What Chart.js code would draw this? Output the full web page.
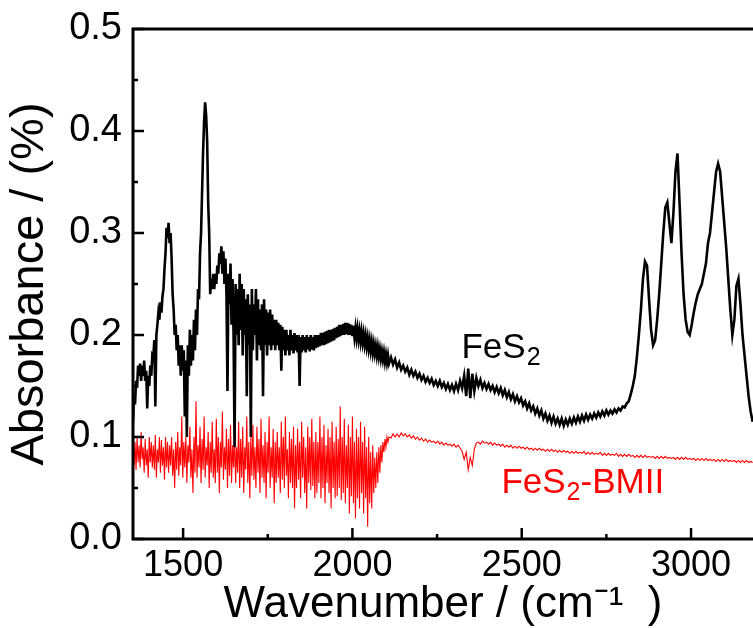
<!DOCTYPE html>
<html>
<head>
<meta charset="utf-8">
<script src="https://cdn.jsdelivr.net/npm/chart.js@4/dist/chart.umd.min.js"></script>
<style>
  html, body { margin: 0; padding: 0; background: #fff; }
  #wrap { width: 753px; height: 628px; position: relative; }
</style>
</head>
<body>
<div id="wrap"><canvas id="spectrum"></canvas></div>
<script>
// the noisy low-wavenumber part is read on a 3 cm-1 grid, the rest on 6 cm-1
const denseStart = 1352;
const denseStep = 3;
const tailStart = 2114;
const tailStep = 6;

// FeS2, 1352-2108 cm-1 (one row = 60 cm-1)
const fes2Dense = [
  0.115, 0.140, 0.132, 0.155, 0.148, 0.170, 0.160, 0.172, 0.155, 0.170, 0.160, 0.175, 0.155, 0.165, 0.128, 0.160, 0.150, 0.170, 0.160, 0.180,
  0.178, 0.195, 0.130, 0.200, 0.210, 0.222, 0.215, 0.232, 0.222, 0.238, 0.245, 0.265, 0.280, 0.305, 0.295, 0.310, 0.290, 0.300, 0.275, 0.240,
  0.225, 0.200, 0.210, 0.185, 0.200, 0.170, 0.190, 0.160, 0.190, 0.165, 0.185, 0.120, 0.175, 0.100, 0.190, 0.160, 0.205, 0.170, 0.200, 0.175,
  0.215, 0.185, 0.225, 0.200, 0.245, 0.235, 0.280, 0.300, 0.340, 0.380, 0.410, 0.428, 0.415, 0.390, 0.330, 0.300, 0.240, 0.255, 0.245, 0.260,
  0.245, 0.260, 0.250, 0.268, 0.260, 0.280, 0.270, 0.287, 0.260, 0.282, 0.250, 0.275, 0.240, 0.145, 0.260, 0.230, 0.270, 0.210, 0.255, 0.200,
  0.090, 0.250, 0.200, 0.245, 0.190, 0.260, 0.205, 0.250, 0.180, 0.245, 0.200, 0.235, 0.140, 0.240, 0.190, 0.230, 0.100, 0.245, 0.185, 0.230,
  0.200, 0.245, 0.175, 0.235, 0.190, 0.225, 0.185, 0.230, 0.140, 0.235, 0.190, 0.225, 0.180, 0.222, 0.190, 0.225, 0.185, 0.220, 0.190, 0.215,
  0.185, 0.215, 0.190, 0.212, 0.185, 0.210, 0.165, 0.208, 0.185, 0.205, 0.180, 0.205, 0.185, 0.200, 0.180, 0.205, 0.185, 0.200, 0.182, 0.202,
  0.185, 0.200, 0.183, 0.200, 0.150, 0.198, 0.183, 0.200, 0.185, 0.198, 0.183, 0.200, 0.186, 0.198, 0.184, 0.200, 0.186, 0.198, 0.185, 0.200,
  0.187, 0.200, 0.188, 0.200, 0.189, 0.202, 0.190, 0.202, 0.190, 0.203, 0.191, 0.204, 0.192, 0.205, 0.193, 0.205, 0.194, 0.206, 0.195, 0.207,
  0.197, 0.208, 0.198, 0.210, 0.199, 0.210, 0.200, 0.211, 0.200, 0.212, 0.201, 0.212, 0.200, 0.211, 0.200, 0.210, 0.199, 0.209, 0.198, 0.207,
  0.197, 0.206, 0.196, 0.204, 0.194, 0.203, 0.193, 0.201, 0.191, 0.199, 0.189, 0.197, 0.187, 0.195, 0.185, 0.193, 0.183, 0.191, 0.182, 0.189,
  0.180, 0.188, 0.179, 0.186, 0.177, 0.184, 0.176, 0.183, 0.174, 0.181, 0.173, 0.180, 0.172
];

// FeS2, 2114-3182 cm-1
const fes2Tail = [
  0.178, 0.171, 0.176,
  0.168, 0.173, 0.166, 0.170, 0.164, 0.168, 0.161, 0.166, 0.160, 0.164,
  0.158, 0.162, 0.156, 0.160, 0.154, 0.158, 0.153, 0.157, 0.151, 0.155,
  0.150, 0.155, 0.149, 0.153, 0.147, 0.152, 0.146, 0.151, 0.145, 0.152,
  0.146, 0.155, 0.148, 0.160, 0.140, 0.167, 0.138, 0.162, 0.145, 0.158,
  0.150, 0.156, 0.148, 0.153, 0.147, 0.152, 0.146, 0.150, 0.144, 0.149,
  0.143, 0.148, 0.141, 0.146, 0.139, 0.144, 0.137, 0.142, 0.135, 0.140,
  0.134, 0.138, 0.131, 0.135, 0.128, 0.133, 0.126, 0.130, 0.123, 0.128,
  0.121, 0.126, 0.118, 0.123, 0.116, 0.121, 0.114, 0.120, 0.113, 0.118,
  0.112, 0.118, 0.111, 0.117, 0.112, 0.118, 0.113, 0.119, 0.114, 0.120,
  0.115, 0.121, 0.116, 0.122, 0.117, 0.122, 0.118, 0.123, 0.119, 0.124,
  0.120, 0.125, 0.121, 0.126, 0.122, 0.126, 0.123, 0.127, 0.124, 0.128,
  0.126, 0.130, 0.129, 0.133, 0.135, 0.142, 0.150, 0.160, 0.178, 0.200,
  0.225, 0.255, 0.272, 0.268, 0.235, 0.205, 0.190, 0.195, 0.215, 0.240,
  0.270, 0.300, 0.325, 0.330, 0.310, 0.290, 0.320, 0.360, 0.378, 0.330,
  0.280, 0.240, 0.215, 0.203, 0.200, 0.210, 0.222, 0.232, 0.240, 0.245,
  0.250, 0.260, 0.270, 0.290, 0.300, 0.320, 0.340, 0.360, 0.368, 0.360,
  0.335, 0.310, 0.285, 0.255, 0.225, 0.200, 0.215, 0.248, 0.255, 0.230,
  0.200, 0.180, 0.160, 0.140, 0.125, 0.115
];

// FeS2-BMII, 1352-2108 cm-1
const bmiiDense = [
  0.100, 0.072, 0.095, 0.068, 0.100, 0.075, 0.092, 0.070, 0.105, 0.078, 0.090, 0.065, 0.098, 0.072, 0.088, 0.060, 0.100, 0.075, 0.095, 0.070,
  0.092, 0.068, 0.102, 0.060, 0.088, 0.075, 0.100, 0.065, 0.097, 0.072, 0.090, 0.058, 0.100, 0.070, 0.095, 0.065, 0.092, 0.072, 0.100, 0.062,
  0.088, 0.050, 0.095, 0.068, 0.105, 0.062, 0.090, 0.072, 0.120, 0.060, 0.095, 0.070, 0.100, 0.055, 0.092, 0.075, 0.110, 0.060, 0.088, 0.045,
  0.100, 0.065, 0.135, 0.060, 0.092, 0.070, 0.110, 0.055, 0.098, 0.068, 0.120, 0.060, 0.090, 0.072, 0.105, 0.050, 0.095, 0.065, 0.115, 0.060,
  0.088, 0.055, 0.118, 0.065, 0.100, 0.045, 0.095, 0.070, 0.125, 0.058, 0.090, 0.068, 0.108, 0.050, 0.098, 0.062, 0.112, 0.055, 0.092, 0.070,
  0.105, 0.055, 0.090, 0.065, 0.115, 0.050, 0.098, 0.060, 0.110, 0.045, 0.090, 0.068, 0.120, 0.055, 0.095, 0.040, 0.100, 0.062, 0.112, 0.058,
  0.090, 0.050, 0.110, 0.065, 0.098, 0.045, 0.118, 0.060, 0.092, 0.055, 0.105, 0.040, 0.095, 0.065, 0.120, 0.050, 0.090, 0.060, 0.108, 0.035,
  0.095, 0.055, 0.105, 0.060, 0.090, 0.045, 0.115, 0.058, 0.100, 0.050, 0.120, 0.062, 0.088, 0.040, 0.105, 0.055, 0.098, 0.050, 0.110, 0.030,
  0.092, 0.050, 0.108, 0.058, 0.095, 0.040, 0.115, 0.060, 0.100, 0.045, 0.090, 0.030, 0.110, 0.055, 0.100, 0.048, 0.118, 0.052, 0.095, 0.040,
  0.105, 0.045, 0.095, 0.055, 0.120, 0.040, 0.100, 0.050, 0.112, 0.035, 0.092, 0.055, 0.108, 0.045, 0.100, 0.030, 0.115, 0.050, 0.095, 0.040,
  0.110, 0.042, 0.098, 0.050, 0.130, 0.038, 0.100, 0.045, 0.118, 0.035, 0.092, 0.050, 0.112, 0.025, 0.100, 0.042, 0.120, 0.035, 0.095, 0.020,
  0.108, 0.040, 0.100, 0.030, 0.115, 0.045, 0.095, 0.025, 0.110, 0.040, 0.090, 0.012, 0.100, 0.035, 0.085, 0.030, 0.092, 0.045, 0.080, 0.050,
  0.085, 0.055, 0.090, 0.065, 0.092, 0.075, 0.095, 0.085, 0.098, 0.090, 0.100, 0.095, 0.100
];

// FeS2-BMII, 2114-3182 cm-1
const bmiiTail = [
  0.099, 0.103, 0.100,
  0.103, 0.100, 0.104, 0.101, 0.103, 0.100, 0.102, 0.099, 0.101, 0.098,
  0.100, 0.097, 0.099, 0.096, 0.098, 0.095, 0.097, 0.095, 0.096, 0.094,
  0.096, 0.093, 0.095, 0.092, 0.094, 0.092, 0.093, 0.091, 0.093, 0.090,
  0.092, 0.089, 0.086, 0.078, 0.085, 0.068, 0.080, 0.072, 0.088, 0.094,
  0.095, 0.093, 0.096, 0.094, 0.095, 0.093, 0.095, 0.092, 0.094, 0.092,
  0.093, 0.091, 0.093, 0.090, 0.092, 0.090, 0.092, 0.089, 0.091, 0.089,
  0.091, 0.089, 0.090, 0.088, 0.090, 0.088, 0.089, 0.087, 0.089, 0.087,
  0.089, 0.087, 0.088, 0.086, 0.088, 0.086, 0.088, 0.086, 0.087, 0.085,
  0.087, 0.085, 0.087, 0.085, 0.086, 0.084, 0.086, 0.084, 0.086, 0.084,
  0.085, 0.084, 0.086, 0.083, 0.085, 0.083, 0.085, 0.083, 0.084, 0.083,
  0.085, 0.082, 0.084, 0.082, 0.084, 0.082, 0.083, 0.082, 0.084, 0.081,
  0.083, 0.081, 0.083, 0.081, 0.083, 0.081, 0.082, 0.080, 0.082, 0.080,
  0.082, 0.080, 0.082, 0.080, 0.081, 0.080, 0.081, 0.079, 0.081, 0.079,
  0.081, 0.079, 0.081, 0.079, 0.080, 0.079, 0.080, 0.078, 0.080, 0.078,
  0.080, 0.078, 0.080, 0.078, 0.079, 0.078, 0.079, 0.077, 0.079, 0.077,
  0.079, 0.077, 0.079, 0.077, 0.078, 0.077, 0.078, 0.076, 0.078, 0.076,
  0.078, 0.076, 0.078, 0.076, 0.077, 0.076, 0.077, 0.075, 0.077, 0.075,
  0.077, 0.075, 0.077, 0.075, 0.076, 0.075
];

const xMajorTicks = [1500, 2000, 2500, 3000];
const xMinorTicks = [1750, 2250, 2750];
const yMajorTicks = [0, 0.1, 0.2, 0.3, 0.4, 0.5];
const yMinorTicks = [0.05, 0.15, 0.25, 0.35, 0.45];

const FONT = '"Liberation Sans", Arial, Helvetica, sans-serif';

function toPoints(dense, tail) {
  const pts = dense.map((v, i) => ({ x: denseStart + i * denseStep, y: v }));
  return pts.concat(tail.map((v, i) => ({ x: tailStart + i * tailStep, y: v })));
}

// axis frame with inward ticks (top/left/bottom; right side is cut off)
const frame = {
  id: 'frame',
  afterDraw(chart) {
    const { ctx, chartArea: a, scales } = chart;
    ctx.save();
    ctx.strokeStyle = '#000';
    ctx.lineWidth = 3;
    ctx.beginPath();
    ctx.moveTo(a.right + 2, a.top);
    ctx.lineTo(a.left, a.top);
    ctx.lineTo(a.left, a.bottom);
    ctx.lineTo(a.right + 2, a.bottom);
    ctx.stroke();
    ctx.lineWidth = 2.5;
    ctx.beginPath();
    xMajorTicks.concat(xMinorTicks).forEach((v) => {
      const len = xMajorTicks.includes(v) ? 11 : 5;
      const px = scales.x.getPixelForValue(v);
      ctx.moveTo(px, a.bottom);
      ctx.lineTo(px, a.bottom - len);
    });
    yMajorTicks.concat(yMinorTicks).forEach((v) => {
      const len = yMajorTicks.includes(v) ? 11 : 5;
      const py = scales.y.getPixelForValue(v);
      ctx.moveTo(a.left, py);
      ctx.lineTo(a.left + len, py);
    });
    ctx.stroke();
    ctx.restore();
  }
};

// curve labels with subscript 2
const curveLabels = {
  id: 'curveLabels',
  afterDatasetsDraw(chart) {
    const { ctx, scales } = chart;
    const items = [
      { at: [2322, 0.177], parts: ['FeS', '2', ''], color: '#000', size: 35 },
      { at: [2440, 0.045], parts: ['FeS', '2', '-BMII'], color: '#ff0000', size: 35 }
    ];
    ctx.save();
    ctx.textBaseline = 'alphabetic';
    items.forEach((it) => {
      let x = scales.x.getPixelForValue(it.at[0]);
      const y = scales.y.getPixelForValue(it.at[1]);
      ctx.fillStyle = it.color;
      ctx.font = it.size + 'px ' + FONT;
      ctx.fillText(it.parts[0], x, y);
      x += ctx.measureText(it.parts[0]).width + 1;
      ctx.font = Math.round(it.size * 0.7) + 'px ' + FONT;
      ctx.fillText(it.parts[1], x, y + 7);
      x += ctx.measureText(it.parts[1]).width;
      ctx.font = it.size + 'px ' + FONT;
      ctx.fillText(it.parts[2], x, y);
    });
    ctx.restore();
  }
};

new Chart(document.getElementById('spectrum'), {
  type: 'line',
  data: {
    datasets: [
      { label: 'FeS2', data: toPoints(fes2Dense, fes2Tail), borderColor: '#000', borderWidth: 2.6, pointRadius: 0, tension: 0 },
      { label: 'FeS2-BMII', data: toPoints(bmiiDense, bmiiTail), borderColor: '#ff0000', borderWidth: 1.1, pointRadius: 0, tension: 0 }
    ]
  },
  options: {
    responsive: true,
    maintainAspectRatio: false,
    animation: false,
    events: [],
    layout: { padding: { top: 29, right: 0, left: 0, bottom: 0 } },
    plugins: { legend: { display: false }, tooltip: { enabled: false } },
    scales: {
      x: {
        type: 'linear',
        min: 1352,
        max: 3183,
        afterBuildTicks: (scale) => { scale.ticks = xMajorTicks.map((v) => ({ value: v })); },
        afterFit: (scale) => { scale.height = 89; scale.paddingLeft = 0; scale.paddingRight = 0; },
        grid: { display: false, drawTicks: false },
        border: { display: false },
        ticks: { color: '#000', font: { family: FONT, size: 36 }, padding: 5, maxRotation: 0, callback: (v) => String(v) },
        title: { display: true, text: 'Wavenumber / (cm\u207B\u00B9  )', color: '#000', font: { family: FONT, size: 44, lineHeight: 1 }, padding: { top: 0, bottom: 1 } }
      },
      y: {
        min: 0,
        max: 0.5,
        afterBuildTicks: (scale) => { scale.ticks = yMajorTicks.map((v) => ({ value: v })); },
        afterFit: (scale) => { scale.width = 133; scale.paddingTop = 0; scale.paddingBottom = 0; },
        grid: { display: false, drawTicks: false },
        border: { display: false },
        ticks: { color: '#000', font: { family: FONT, size: 38 }, padding: 11, callback: (v) => Number(v).toFixed(1) },
        title: { display: true, text: 'Absorbance / (%)', color: '#000', font: { family: FONT, size: 47, lineHeight: 1 }, padding: { top: 7, bottom: 0 } }
      }
    }
  },
  plugins: [frame, curveLabels]
});
</script>
</body>
</html>
